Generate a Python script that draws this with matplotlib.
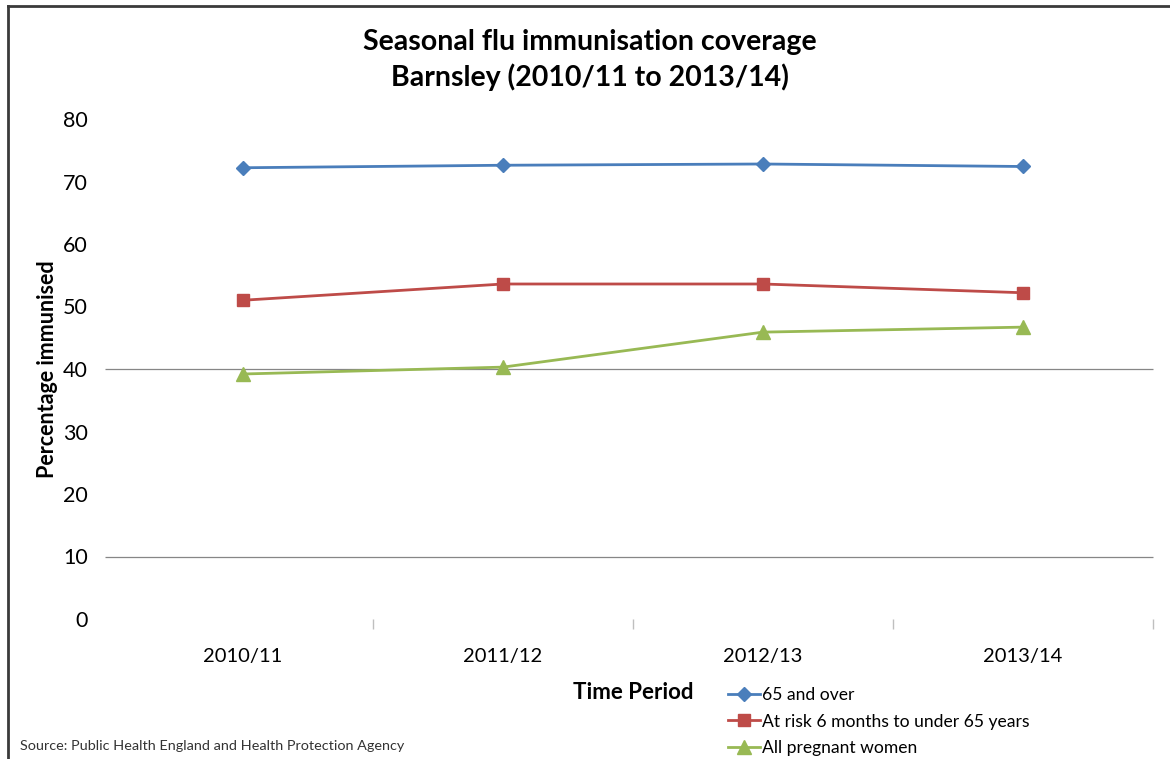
import matplotlib
matplotlib.use("Agg")
import matplotlib.pyplot as plt
from matplotlib.lines import Line2D

plt.rcParams['font.family'] = ['Lato', 'DejaVu Sans']

periods = ["2010/11", "2011/12", "2012/13", "2013/14"]
over_65 = [72.2, 72.6, 72.8, 72.4]
at_risk = [51.0, 53.6, 53.6, 52.2]
pregnant = [39.2, 40.3, 45.9, 46.7]
grid_values = [10, 40]
y_ticks = [0, 10, 20, 30, 40, 50, 60, 70, 80]

fig = plt.figure(figsize=(11.7, 7.59), dpi=100)
ax = fig.add_axes([113 / 1170, 1 - 619 / 759, 1040 / 1170, 500 / 759])

x = list(range(len(periods)))
ax.hlines(grid_values, -0.53, 3.5, colors="#868686", linewidth=0.9, clip_on=False, zorder=1)

ax.plot(x, over_65, color="#4A7EBB", linewidth=2, marker="D", markersize=7, label="65 and over", zorder=3)
ax.plot(x, at_risk, color="#BE4B48", linewidth=2, marker="s", markersize=8.5, label="At risk 6 months to under 65 years", zorder=3)
ax.plot(x, pregnant, color="#98B954", linewidth=2, marker="^", markersize=9.5, label="All pregnant women", zorder=3)

ax.set_xlim(-0.5, 3.5)
ax.set_ylim(0, 80)
ax.set_yticks(y_ticks)
ax.set_xticks(x)
ax.set_xticklabels(periods)
ax.set_xticks([0.5, 1.5, 2.5, 3.5], minor=True)
for s in ax.spines.values():
    s.set_visible(False)
ax.tick_params(axis="y", length=0, pad=18, labelsize=15.5)
ax.tick_params(axis="x", which="major", length=0, pad=21, labelsize=14.5)
ax.tick_params(axis="x", which="minor", length=7, color="#BFBFBF", width=1)

ax.set_ylabel("Percentage immunised", fontsize=15.5, fontweight="bold", labelpad=4)
ax.set_xlabel("Time Period", fontsize=16, fontweight="bold", labelpad=12)

fig.text(590 / 1170, 1 - 42 / 759, "Seasonal flu immunisation coverage", ha="center", va="center",
         fontsize=20.5, fontweight="bold")
fig.text(590 / 1170, 1 - 77 / 759, "Barnsley (2010/11 to 2013/14)", ha="center", va="center",
         fontsize=20.5, fontweight="bold")

fig.legend(loc="upper left", bbox_to_anchor=(719 / 1170, 1 - 678 / 759), frameon=False, fontsize=12.6,
           handlelength=1.85, handletextpad=0.12, labelspacing=0.62, borderpad=0)

fig.text(20 / 1170, 1 - 746 / 759, "Source: Public Health England and Health Protection Agency",
         ha="left", va="center", fontsize=10.4, color="#333333")

fig.add_artist(Line2D([8 / 1170, 8 / 1170], [0, 1 - 6 / 759], transform=fig.transFigure, color="#3A3A3A", linewidth=2))
fig.add_artist(Line2D([8 / 1170, 1], [1 - 6 / 759, 1 - 6 / 759], transform=fig.transFigure, color="#3A3A3A", linewidth=2))

fig.savefig("out.png", dpi=100)
